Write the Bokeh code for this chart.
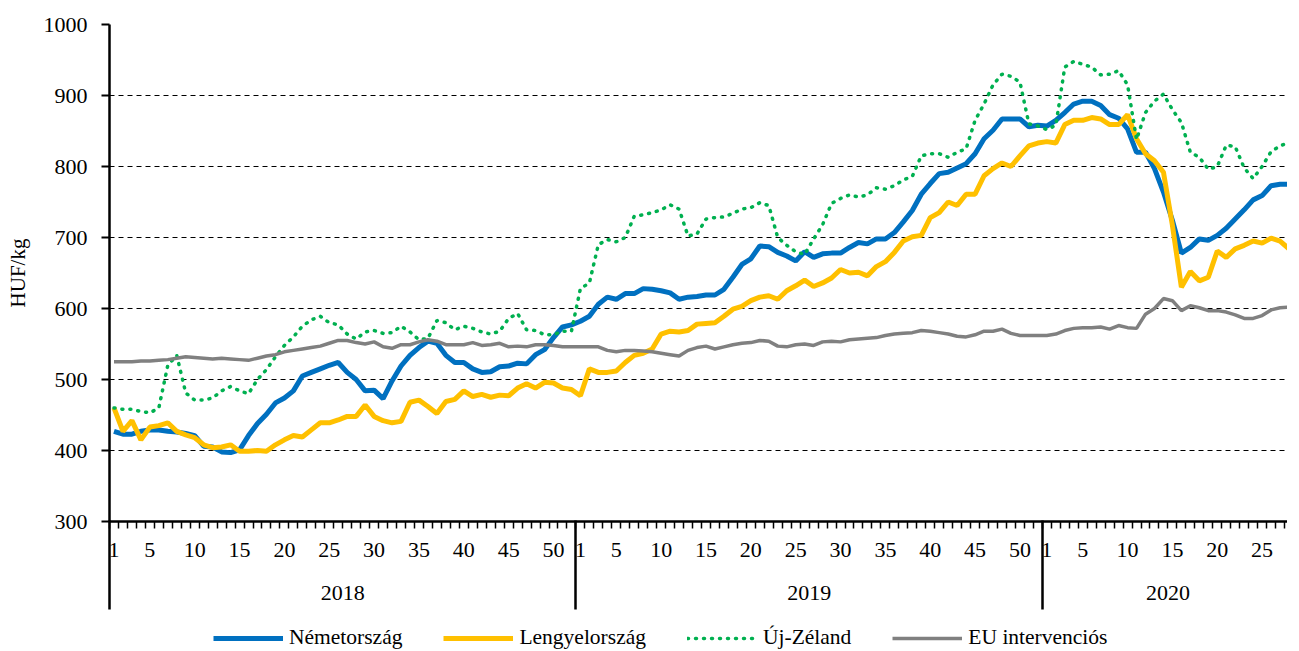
from bokeh.plotting import figure
from bokeh.layouts import column
from bokeh.models import Range1d, FixedTicker, LinearAxis, Legend, LegendItem
from bokeh.embed import file_html
from bokeh.resources import INLINE

years = ["2018", "2019", "2020"]
weeks_per_year = [52, 52, 28]
week_labels = [1, 5, 10, 15, 20, 25, 30, 35, 40, 45, 50]
y_ticks = [300, 400, 500, 600, 700, 800, 900, 1000]
series_names = ["Németország", "Lengyelország", "Új-Zéland", "EU intervenciós"]

nemetorszag = [
    427, 423, 423, 427, 429, 429, 427, 426, 424, 421, 406, 405, 398, 397, 401, 421, 438, 451, 467, 474,
    484, 505, 510, 515, 520, 524, 510, 500, 484, 485, 473, 498, 519, 534, 545, 554, 551, 534, 524, 524,
    515, 510, 511, 518, 519, 523, 522, 535, 542, 559, 574, 577,
    582, 589, 606, 616, 613, 621, 621, 628, 627, 625, 622, 613, 616, 617, 619, 619, 627, 644, 662, 670,
    688, 687, 679, 674, 667, 680, 672, 677, 678, 678, 686, 693, 691, 698, 698, 707, 722, 738, 761, 776,
    790, 792, 798, 804, 818, 839, 851, 867, 867, 867, 856, 858,
    857, 865, 876, 888, 892, 892, 886, 873, 868, 853, 820, 820, 797, 764, 724, 678, 686, 698, 696, 703,
    713, 726, 739, 753, 759, 773, 775, 775,
]
lengyelorszag = [
    460, 427, 442, 415, 433, 435, 439, 427, 422, 418, 408, 404, 405, 408, 399, 399, 400, 399, 408, 415,
    421, 419, 429, 439, 439, 443, 448, 448, 464, 448, 442, 439, 441, 468, 471, 462, 452, 469, 472, 484,
    476, 479, 475, 478, 477, 488, 494, 488, 496, 495, 488, 486,
    477, 515, 510, 510, 512, 524, 534, 537, 543, 564, 568, 567, 569, 578, 579, 580, 589, 599, 603, 611,
    616, 618, 613, 625, 632, 640, 631, 636, 643, 655, 650, 651, 646, 659, 666, 679, 695, 701, 703, 728,
    735, 750, 745, 761, 761, 787, 797, 805, 800, 815, 829, 833,
    835, 833, 859, 865, 865, 869, 867, 859, 859, 873, 839, 818, 808, 792, 717, 630, 652, 639, 644, 681,
    672, 684, 689, 695, 692, 699, 695, 684,
]
uj_zeland = [
    460, 458, 458, 455, 453, 460, 520, 534, 481, 471, 471, 474, 484, 490, 484, 480, 500, 514, 532, 548,
    560, 575, 584, 589, 580, 577, 564, 557, 567, 569, 565, 566, 575, 567, 556, 558, 583, 580, 570, 575,
    572, 567, 564, 568, 586, 593, 570, 569, 563, 563, 568, 568,
    628, 636, 690, 697, 694, 700, 730, 732, 735, 739, 746, 740, 702, 705, 726, 728, 729, 734, 740, 742,
    749, 745, 700, 689, 680, 676, 698, 718, 748, 755, 760, 757, 760, 770, 768, 773, 781, 786, 815, 818,
    818, 813, 820, 825, 865, 888, 915, 930, 927, 919, 860, 857,
    852, 858, 940, 948, 944, 940, 929, 930, 935, 915, 838, 876, 892, 902, 880, 862, 820, 813, 796, 800,
    830, 828, 798, 783, 800, 821, 829, 834,
]
eu_intervencios = [
    525, 525, 525, 526, 526, 527, 528, 530, 532, 531, 530, 529, 530, 529, 528, 527, 530, 533, 535, 539,
    541, 543, 545, 547, 551, 555, 555, 552, 550, 553, 546, 544, 549, 549, 553, 556, 554, 549, 549, 549,
    552, 548, 549, 551, 546, 547, 546, 549, 549, 548, 546, 546,
    546, 546, 546, 541, 539, 541, 541, 540, 539, 537, 535, 533, 541, 545, 547, 543, 546, 549, 551, 552,
    555, 554, 547, 546, 549, 550, 548, 553, 554, 553, 556, 557, 558, 559, 562, 564, 565, 566, 569, 568,
    566, 564, 561, 560, 563, 568, 568, 571, 565, 562, 562, 562,
    562, 564, 569, 572, 573, 573, 574, 571, 576, 573, 572, 592, 600, 614, 611, 597, 604, 601, 597, 597,
    595, 591, 586, 586, 590, 598, 601, 602,
]

FONT = "Liberation Serif"
STYLES = [
    dict(line_color="#0070C0", line_width=5),
    dict(line_color="#FFC000", line_width=5),
    dict(line_color="#00B050", line_width=3.5, line_dash="1 7", line_cap="round"),
    dict(line_color="#808080", line_width=3.5),
]
n_total = sum(weeks_per_year)
xs = [i + 0.5 for i in range(n_total)]

offsets = [sum(weeks_per_year[:k]) for k in range(len(years))]
week_pos, week_over = [], {}
for off, n in zip(offsets, weeks_per_year):
    for w in week_labels:
        if w <= n:
            pos = off + w - 0.5
            week_pos.append(pos)
            week_over[pos] = str(w)
year_pos = [off + n / 2 for off, n in zip(offsets, weeks_per_year)]
year_over = {pos: y for pos, y in zip(year_pos, years)}

p = figure(frame_width=1178, frame_height=497, x_range=Range1d(0, 131.33), y_range=Range1d(300, 1000),
           output_backend="svg", toolbar_location=None,
           min_border_left=109, min_border_right=0, min_border_top=24, min_border_bottom=95)
p.outline_line_color = None
p.background_fill_color = "white"
p.border_fill_color = "white"

# y axis
ya = p.yaxis[0]
ya.ticker = FixedTicker(ticks=y_ticks, minor_ticks=[])
ya.axis_line_width = 2.5
ya.axis_line_color = "black"
ya.major_tick_out = 8
ya.major_tick_in = 0
ya.major_tick_line_width = 2
ya.major_tick_line_color = "black"
ya.major_label_text_font = FONT
ya.major_label_text_font_size = "22px"
ya.major_label_text_color = "black"
ya.major_label_standoff = 14
ya.axis_label = "HUF/kg"
ya.axis_label_text_font = FONT
ya.axis_label_text_font_size = "21px"
ya.axis_label_text_font_style = "normal"
ya.axis_label_text_color = "black"
ya.axis_label_standoff = 11

p.ygrid.ticker = FixedTicker(ticks=y_ticks[1:])
p.ygrid.grid_line_color = "black"
p.ygrid.grid_line_dash = "5 4"
p.ygrid.grid_line_width = 1
p.xgrid.visible = False

# week axis
xa = p.xaxis[0]
xa.ticker = FixedTicker(ticks=week_pos, minor_ticks=list(range(0, n_total)))
xa.major_label_overrides = week_over
xa.axis_line_width = 2.5
xa.axis_line_color = "black"
xa.major_tick_in = 0
xa.major_tick_out = 0
xa.minor_tick_in = 0
xa.minor_tick_out = 7
xa.minor_tick_line_width = 1.5
xa.minor_tick_line_color = "black"
xa.major_label_text_font = FONT
xa.major_label_text_font_size = "22px"
xa.major_label_text_color = "black"
xa.major_label_standoff = 14

# year axis with group separators
ya2 = LinearAxis(ticker=FixedTicker(ticks=year_pos, minor_ticks=offsets),
                 major_label_overrides=year_over)
ya2.axis_line_color = None
ya2.major_tick_line_color = None
ya2.minor_tick_line_color = "black"
ya2.minor_tick_line_width = 2.5
ya2.minor_tick_in = 39
ya2.minor_tick_out = 50
ya2.major_label_text_font = FONT
ya2.major_label_text_font_size = "22px"
ya2.major_label_text_color = "black"
ya2.major_label_standoff = -24
p.add_layout(ya2, "below")

data = [nemetorszag, lengyelorszag, uj_zeland, eu_intervencios]
for vals, st in zip(data, STYLES):
    p.line(xs, vals, **st)

# legend strip (its own series copies sit outside its visible range)
pl = figure(width=1287, height=34, output_backend="svg", toolbar_location=None,
            x_axis_type=None, y_axis_type=None, x_range=Range1d(-20, -10), y_range=Range1d(0, 1),
            min_border=0)
pl.outline_line_color = None
pl.xgrid.visible = False
pl.ygrid.visible = False
items = []
for name, vals, st in zip(series_names, data, STYLES):
    r = pl.line(xs, vals, **st)
    items.append(LegendItem(label=name, renderers=[r]))
legend = Legend(items=items, orientation="horizontal", location=(104, 0))
legend.glyph_width = 70
legend.glyph_height = 20
legend.label_standoff = 6
legend.spacing = 41
legend.padding = 0
legend.margin = 0
legend.border_line_color = None
legend.background_fill_alpha = 0
legend.label_text_font = FONT
legend.label_text_font_size = "21.5px"
legend.label_text_color = "black"
pl.add_layout(legend, "center")

layout = column(p, pl, spacing=0)
open("out.html", "w").write(file_html(layout, INLINE))
